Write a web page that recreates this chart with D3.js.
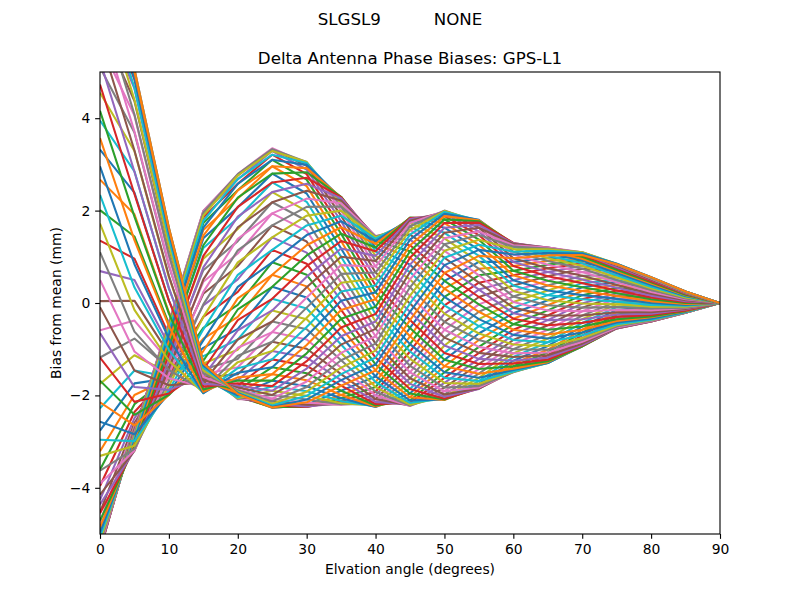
<!DOCTYPE html>
<html>
<head>
<meta charset="utf-8">
<script src="https://cdn.jsdelivr.net/npm/d3@7"></script>
<style>
  html, body { margin: 0; padding: 0; background: #fff; }
  svg { display: block; font-family: "DejaVu Sans", sans-serif; }
</style>
</head>
<body>
<svg id="chart" width="800" height="600"></svg>
<script>
// ---------------- data ----------------
const elevations = [0,5,10,15,20,25,30,35,40,45,50,55,60,65,70,75,80,85,90];
const azimuths = [0,5,10,15,20,25,30,35,40,45,50,55,60,65,70,75,80,85,90,95,100,105,110,115,120,125,130,135,140,145,150,155,160,165,170,175,180,185,190,195,200,205,210,215,220,225,230,235,240,245,250,255,260,265,270,275,280,285,290,295,300,305,310,315,320,325,330,335,340,345,350,355];
const xTicks = [0,10,20,30,40,50,60,70,80,90];
const yTicks = [-4,-2,0,2,4];
const suptitleText = "SLGSL9          NONE";
const titleText = "Delta Antenna Phase Biases: GPS-L1";
const xLabelText = "Elvation angle (degrees)";
const yLabelText = "Bias from mean (mm)";

// bias (mm) at each elevation, one value per azimuth line
const bias_el00 = [7.28,7.19,7.02,6.77,6.45,6.06,5.61,5.10,4.55,3.95,3.32,2.67,2.01,1.35,0.69,0.04,-0.59,-1.18,-1.75,-2.28,-2.76,-3.21,-3.61,-3.96,-4.26,-4.53,-4.75,-4.93,-5.07,-5.18,-5.26,-5.31,-5.34,-5.35,-5.34,-5.32,-5.28,-5.22,-5.15,-5.07,-4.97,-4.85,-4.71,-4.55,-4.36,-4.15,-3.91,-3.63,-3.31,-2.96,-2.57,-2.15,-1.68,-1.18,-0.65,-0.09,0.50,1.10,1.72,2.34,2.96,3.57,4.16,4.73,5.25,5.73,6.16,6.53,6.83,7.06,7.21,7.28];
const bias_el05 = [5.06,5.06,4.98,4.84,4.64,4.37,4.06,3.69,3.29,2.85,2.39,1.92,1.44,0.96,0.50,0.05,-0.38,-0.77,-1.13,-1.46,-1.74,-1.99,-2.19,-2.36,-2.49,-2.60,-2.67,-2.71,-2.74,-2.76,-2.76,-2.76,-2.76,-2.76,-2.77,-2.78,-2.81,-2.84,-2.89,-2.94,-2.99,-3.05,-3.11,-3.15,-3.19,-3.20,-3.19,-3.16,-3.09,-2.99,-2.84,-2.65,-2.42,-2.14,-1.82,-1.46,-1.05,-0.62,-0.15,0.34,0.84,1.36,1.87,2.36,2.84,3.30,3.71,4.08,4.40,4.66,4.86,5.00];
const bias_el10 = [1.63,1.63,1.58,1.49,1.37,1.20,1.01,0.80,0.56,0.31,0.05,-0.20,-0.45,-0.69,-0.91,-1.10,-1.27,-1.41,-1.52,-1.59,-1.63,-1.64,-1.61,-1.56,-1.48,-1.39,-1.28,-1.15,-1.03,-0.90,-0.78,-0.67,-0.58,-0.51,-0.46,-0.43,-0.43,-0.46,-0.52,-0.60,-0.70,-0.83,-0.96,-1.11,-1.26,-1.41,-1.55,-1.69,-1.80,-1.89,-1.96,-1.99,-1.99,-1.96,-1.88,-1.78,-1.63,-1.45,-1.25,-1.02,-0.77,-0.50,-0.23,0.05,0.33,0.59,0.83,1.05,1.24,1.40,1.52,1.60];
const bias_el15 = [-1.29,-1.29,-1.30,-1.32,-1.36,-1.40,-1.45,-1.51,-1.56,-1.61,-1.65,-1.68,-1.70,-1.69,-1.67,-1.62,-1.54,-1.44,-1.31,-1.15,-0.97,-0.77,-0.54,-0.30,-0.05,0.20,0.46,0.71,0.96,1.19,1.40,1.58,1.73,1.85,1.94,1.99,1.99,1.96,1.89,1.78,1.63,1.46,1.25,1.02,0.77,0.51,0.24,-0.03,-0.30,-0.57,-0.81,-1.04,-1.25,-1.44,-1.59,-1.72,-1.82,-1.89,-1.94,-1.95,-1.95,-1.92,-1.87,-1.81,-1.75,-1.67,-1.60,-1.52,-1.46,-1.40,-1.35,-1.31];
const bias_el20 = [-1.99,-2.01,-2.03,-2.04,-2.06,-2.07,-2.08,-2.07,-2.06,-2.04,-2.00,-1.95,-1.88,-1.79,-1.67,-1.54,-1.39,-1.21,-1.01,-0.79,-0.56,-0.30,-0.04,0.24,0.51,0.80,1.07,1.34,1.60,1.84,2.07,2.26,2.44,2.58,2.68,2.76,2.79,2.79,2.76,2.68,2.58,2.44,2.28,2.08,1.87,1.64,1.39,1.14,0.88,0.61,0.35,0.10,-0.14,-0.37,-0.59,-0.79,-0.97,-1.14,-1.28,-1.41,-1.51,-1.61,-1.68,-1.74,-1.79,-1.83,-1.87,-1.89,-1.92,-1.94,-1.95,-1.97];
const bias_el25 = [-2.27,-2.26,-2.25,-2.22,-2.18,-2.13,-2.07,-1.99,-1.90,-1.80,-1.68,-1.54,-1.39,-1.22,-1.04,-0.84,-0.63,-0.40,-0.16,0.09,0.35,0.61,0.88,1.15,1.42,1.68,1.94,2.18,2.40,2.61,2.80,2.96,3.10,3.21,3.29,3.33,3.35,3.33,3.29,3.21,3.10,2.96,2.80,2.61,2.40,2.18,1.94,1.68,1.42,1.15,0.88,0.61,0.35,0.09,-0.16,-0.40,-0.63,-0.84,-1.04,-1.22,-1.39,-1.54,-1.68,-1.80,-1.90,-1.99,-2.07,-2.13,-2.18,-2.22,-2.25,-2.26];
const bias_el30 = [-2.20,-2.23,-2.25,-2.25,-2.24,-2.20,-2.16,-2.09,-2.01,-1.91,-1.80,-1.67,-1.52,-1.36,-1.18,-0.99,-0.79,-0.57,-0.35,-0.12,0.12,0.36,0.61,0.85,1.09,1.33,1.56,1.78,1.99,2.19,2.37,2.53,2.67,2.79,2.89,2.97,3.02,3.05,3.05,3.03,2.99,2.92,2.83,2.71,2.58,2.43,2.26,2.08,1.89,1.68,1.47,1.25,1.03,0.80,0.57,0.34,0.12,-0.10,-0.32,-0.52,-0.72,-0.91,-1.09,-1.26,-1.42,-1.56,-1.70,-1.82,-1.92,-2.01,-2.09,-2.15];
const bias_el35 = [-1.90,-1.99,-2.06,-2.12,-2.17,-2.19,-2.20,-2.19,-2.17,-2.12,-2.06,-1.99,-1.90,-1.79,-1.67,-1.54,-1.40,-1.24,-1.08,-0.90,-0.72,-0.53,-0.34,-0.15,0.05,0.25,0.44,0.63,0.82,1.00,1.18,1.34,1.50,1.64,1.77,1.89,2.00,2.09,2.16,2.22,2.27,2.29,2.30,2.29,2.27,2.22,2.16,2.09,2.00,1.89,1.77,1.64,1.50,1.34,1.18,1.00,0.82,0.63,0.44,0.25,0.05,-0.15,-0.34,-0.53,-0.72,-0.90,-1.08,-1.24,-1.40,-1.54,-1.67,-1.79];
const bias_el40 = [-1.59,-1.71,-1.82,-1.92,-2.00,-2.08,-2.14,-2.19,-2.22,-2.24,-2.25,-2.24,-2.22,-2.19,-2.14,-2.08,-2.00,-1.92,-1.82,-1.71,-1.59,-1.46,-1.33,-1.18,-1.03,-0.88,-0.72,-0.56,-0.40,-0.24,-0.08,0.08,0.23,0.38,0.53,0.66,0.79,0.91,1.02,1.12,1.20,1.28,1.34,1.39,1.42,1.44,1.45,1.44,1.42,1.39,1.34,1.28,1.20,1.12,1.02,0.91,0.79,0.66,0.53,0.38,0.23,0.08,-0.08,-0.24,-0.40,-0.56,-0.72,-0.88,-1.03,-1.18,-1.33,-1.46];
const bias_el45 = [-0.54,-0.72,-0.89,-1.05,-1.21,-1.36,-1.50,-1.63,-1.75,-1.86,-1.96,-2.04,-2.11,-2.16,-2.20,-2.22,-2.23,-2.22,-2.20,-2.16,-2.11,-2.04,-1.96,-1.86,-1.75,-1.63,-1.50,-1.36,-1.21,-1.05,-0.89,-0.72,-0.54,-0.37,-0.19,-0.01,0.16,0.34,0.51,0.67,0.83,0.98,1.12,1.25,1.37,1.48,1.58,1.66,1.73,1.78,1.82,1.84,1.85,1.84,1.82,1.78,1.73,1.66,1.58,1.48,1.37,1.25,1.12,0.98,0.83,0.67,0.51,0.34,0.16,-0.01,-0.19,-0.37];
const bias_el50 = [0.48,0.31,0.13,-0.05,-0.23,-0.41,-0.58,-0.75,-0.92,-1.08,-1.23,-1.37,-1.50,-1.62,-1.73,-1.83,-1.91,-1.98,-2.03,-2.07,-2.09,-2.10,-2.09,-2.07,-2.03,-1.98,-1.91,-1.83,-1.73,-1.62,-1.50,-1.37,-1.23,-1.08,-0.92,-0.75,-0.58,-0.41,-0.23,-0.05,0.13,0.31,0.48,0.65,0.82,0.98,1.13,1.27,1.40,1.52,1.63,1.73,1.81,1.88,1.93,1.97,1.99,2.00,1.99,1.97,1.93,1.88,1.81,1.73,1.63,1.52,1.40,1.27,1.13,0.98,0.82,0.65];
const bias_el55 = [0.89,0.74,0.60,0.44,0.29,0.13,-0.03,-0.19,-0.35,-0.50,-0.66,-0.80,-0.95,-1.08,-1.21,-1.32,-1.43,-1.53,-1.62,-1.69,-1.75,-1.80,-1.83,-1.85,-1.86,-1.85,-1.83,-1.80,-1.75,-1.69,-1.62,-1.53,-1.43,-1.32,-1.21,-1.08,-0.95,-0.80,-0.66,-0.50,-0.35,-0.19,-0.03,0.13,0.29,0.44,0.60,0.74,0.89,1.02,1.15,1.26,1.37,1.47,1.55,1.63,1.69,1.74,1.77,1.79,1.80,1.79,1.77,1.74,1.69,1.63,1.55,1.47,1.37,1.26,1.15,1.02];
const bias_el60 = [0.89,0.80,0.70,0.60,0.49,0.38,0.26,0.14,0.02,-0.10,-0.22,-0.34,-0.46,-0.58,-0.69,-0.80,-0.90,-1.00,-1.09,-1.17,-1.25,-1.31,-1.37,-1.42,-1.45,-1.48,-1.49,-1.50,-1.49,-1.48,-1.45,-1.42,-1.37,-1.31,-1.25,-1.17,-1.09,-1.00,-0.90,-0.80,-0.69,-0.58,-0.46,-0.34,-0.22,-0.10,0.02,0.14,0.26,0.38,0.49,0.60,0.70,0.80,0.89,0.97,1.05,1.11,1.17,1.22,1.25,1.28,1.29,1.30,1.29,1.28,1.25,1.22,1.17,1.11,1.05,0.97];
const bias_el65 = [0.97,0.91,0.83,0.75,0.67,0.58,0.48,0.38,0.27,0.17,0.06,-0.05,-0.16,-0.27,-0.37,-0.48,-0.58,-0.68,-0.77,-0.85,-0.93,-1.01,-1.07,-1.13,-1.18,-1.23,-1.26,-1.28,-1.30,-1.30,-1.30,-1.28,-1.26,-1.23,-1.18,-1.13,-1.07,-1.01,-0.93,-0.85,-0.77,-0.68,-0.58,-0.48,-0.37,-0.27,-0.16,-0.05,0.06,0.17,0.27,0.38,0.48,0.58,0.67,0.75,0.83,0.91,0.97,1.03,1.08,1.13,1.16,1.18,1.20,1.20,1.20,1.18,1.16,1.13,1.08,1.03];
const bias_el70 = [1.00,0.96,0.92,0.86,0.80,0.74,0.67,0.59,0.51,0.43,0.34,0.26,0.17,0.08,-0.01,-0.10,-0.18,-0.27,-0.35,-0.43,-0.51,-0.58,-0.64,-0.70,-0.76,-0.80,-0.84,-0.88,-0.91,-0.92,-0.94,-0.94,-0.94,-0.92,-0.91,-0.88,-0.84,-0.80,-0.76,-0.70,-0.64,-0.58,-0.51,-0.43,-0.35,-0.27,-0.18,-0.10,-0.01,0.08,0.17,0.26,0.34,0.43,0.51,0.59,0.67,0.74,0.80,0.86,0.92,0.96,1.00,1.04,1.07,1.08,1.10,1.10,1.10,1.08,1.07,1.04];
const bias_el75 = [0.83,0.81,0.78,0.76,0.72,0.69,0.65,0.60,0.55,0.50,0.45,0.39,0.33,0.27,0.21,0.15,0.09,0.03,-0.03,-0.09,-0.15,-0.20,-0.25,-0.30,-0.35,-0.39,-0.42,-0.46,-0.48,-0.51,-0.53,-0.54,-0.55,-0.55,-0.55,-0.54,-0.53,-0.51,-0.48,-0.46,-0.42,-0.39,-0.35,-0.30,-0.25,-0.20,-0.15,-0.09,-0.03,0.03,0.09,0.15,0.21,0.27,0.33,0.39,0.45,0.50,0.55,0.60,0.65,0.69,0.72,0.76,0.78,0.81,0.83,0.84,0.85,0.85,0.85,0.84];
const bias_el80 = [0.55,0.54,0.53,0.51,0.50,0.47,0.45,0.42,0.39,0.35,0.32,0.28,0.24,0.20,0.16,0.12,0.08,0.04,0.00,-0.04,-0.08,-0.12,-0.16,-0.20,-0.23,-0.26,-0.29,-0.31,-0.34,-0.36,-0.37,-0.38,-0.39,-0.40,-0.40,-0.40,-0.39,-0.38,-0.37,-0.36,-0.34,-0.31,-0.29,-0.26,-0.23,-0.20,-0.16,-0.12,-0.08,-0.04,0.00,0.04,0.08,0.12,0.16,0.20,0.24,0.28,0.32,0.35,0.39,0.42,0.45,0.47,0.50,0.51,0.53,0.54,0.55,0.56,0.56,0.56];
const bias_el85 = [0.25,0.25,0.24,0.24,0.23,0.22,0.21,0.20,0.18,0.17,0.15,0.14,0.12,0.10,0.08,0.06,0.04,0.02,0.00,-0.02,-0.04,-0.06,-0.08,-0.10,-0.11,-0.13,-0.14,-0.16,-0.17,-0.18,-0.19,-0.20,-0.20,-0.21,-0.21,-0.21,-0.21,-0.21,-0.20,-0.20,-0.19,-0.18,-0.17,-0.16,-0.14,-0.13,-0.11,-0.10,-0.08,-0.06,-0.04,-0.02,0.00,0.02,0.04,0.06,0.08,0.10,0.12,0.14,0.15,0.17,0.18,0.20,0.21,0.22,0.23,0.24,0.24,0.25,0.25,0.25];
const bias_el90 = [0,0,0,0,0,0,0,0,0,0,0,0,0,0,0,0,0,0,0,0,0,0,0,0,0,0,0,0,0,0,0,0,0,0,0,0,0,0,0,0,0,0,0,0,0,0,0,0,0,0,0,0,0,0,0,0,0,0,0,0,0,0,0,0,0,0,0,0,0,0,0,0];

const biasRows = [bias_el00,bias_el05,bias_el10,bias_el15,bias_el20,bias_el25,bias_el30,bias_el35,bias_el40,bias_el45,bias_el50,bias_el55,bias_el60,bias_el65,bias_el70,bias_el75,bias_el80,bias_el85,bias_el90];
const palette = ["#1f77b4","#ff7f0e","#2ca02c","#d62728","#9467bd","#8c564b","#e377c2","#7f7f7f","#bcbd22","#17becf"];

// ---------------- drawing ----------------
(function () {
  const W = 800, H = 600;
  const mLeft = 100, mRight = 720, mTop = 72, mBottom = 534;
  const svg = d3.select("#chart");
  svg.append("rect").attr("width", W).attr("height", H).attr("fill", "#fff");

  const x = d3.scaleLinear().domain([0, 90]).range([mLeft, mRight]);
  const y = d3.scaleLinear().domain([-5, 5]).range([mBottom, mTop]);

  svg.append("defs").append("clipPath").attr("id", "axclip")
    .append("rect").attr("x", mLeft).attr("y", mTop).attr("width", mRight - mLeft).attr("height", mBottom - mTop);

  const series = azimuths.map((az, k) => ({
    az, k,
    pts: elevations.map((e, i) => [e, biasRows[i][k]])
  }));

  const line = d3.line().x(d => x(d[0])).y(d => y(d[1]));

  svg.append("g").attr("clip-path", "url(#axclip)")
    .selectAll("path").data(series).join("path")
    .attr("d", d => line(d.pts))
    .attr("fill", "none")
    .attr("stroke", d => palette[d.k % 10])
    .attr("stroke-width", 2.08)
    .attr("stroke-linejoin", "round")
    .attr("stroke-linecap", "butt");

  const tickLen = 4.86;
  const xAxis = d3.axisBottom(x).tickValues(xTicks).tickSize(tickLen).tickPadding(4.86).tickFormat(d3.format("d"));
  const yAxis = d3.axisLeft(y).tickValues(yTicks).tickSize(tickLen).tickPadding(4.86).tickFormat(d3.format("d"));

  const gx = svg.append("g").attr("transform", `translate(0,${mBottom})`).call(xAxis);
  const gy = svg.append("g").attr("transform", `translate(${mLeft},0)`).call(yAxis);
  [gx, gy].forEach(g => {
    g.select(".domain").remove();
    g.selectAll(".tick line").attr("stroke", "#000").attr("stroke-width", 1.11);
    g.selectAll(".tick text").attr("fill", "#000").style("font-size", "13.9px").style("font-family", "DejaVu Sans");
  });

  svg.append("rect").attr("x", mLeft).attr("y", mTop).attr("width", mRight - mLeft).attr("height", mBottom - mTop)
    .attr("fill", "none").attr("stroke", "#000").attr("stroke-width", 1.11);

  svg.append("text").attr("x", 400).attr("y", 24.5).attr("text-anchor", "middle")
    .style("font-size", "16.67px").style("white-space", "pre").attr("xml:space", "preserve")
    .text(suptitleText);
  svg.append("text").attr("x", (mLeft + mRight) / 2).attr("y", 63.7).attr("text-anchor", "middle")
    .style("font-size", "16.67px").text(titleText);
  svg.append("text").attr("x", (mLeft + mRight) / 2).attr("y", 574).attr("text-anchor", "middle")
    .style("font-size", "13.9px").text(xLabelText);
  svg.append("text").attr("transform", `translate(61,${(mTop + mBottom) / 2}) rotate(-90)`).attr("text-anchor", "middle")
    .style("font-size", "13.9px").text(yLabelText);
})();
</script>
</body>
</html>
